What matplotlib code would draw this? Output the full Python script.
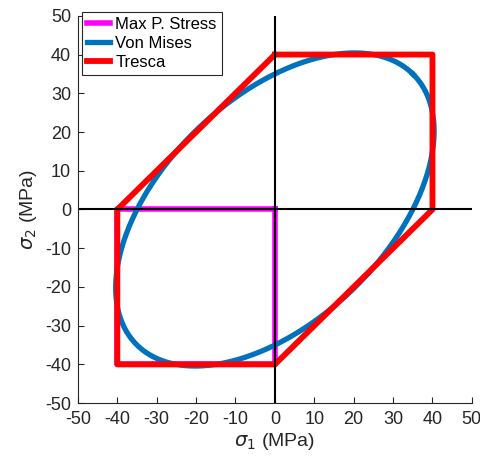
import numpy as np
import matplotlib
matplotlib.use("Agg")
import matplotlib.pyplot as plt

# yield strengths (MPa)
sy_vm = 35.0
sy_tr = 40.0

# max principal stress envelope corners
mps_s1 = [0, 0, -40, -40, 0]
mps_s2 = [0, -40, -40, 0, 0]

# Tresca hexagon corners
tr_s1 = [0, 40, 40, 0, -40, -40, 0]
tr_s2 = [40, 40, 0, -40, -40, 0, 40]

ticks = list(range(-50, 51, 10))

plt.rcParams['font.family'] = ['Liberation Sans', 'DejaVu Sans']
plt.rcParams['mathtext.fontset'] = 'dejavusans'
plt.rcParams['axes.unicode_minus'] = False

fig = plt.figure(figsize=(4.81, 4.65), dpi=100)
ax = fig.add_axes([0.162, 0.133, 0.819, 0.833])

# von Mises ellipse: s1^2 - s1*s2 + s2^2 = sy^2
t = np.linspace(0, 2 * np.pi, 400)
u = np.sqrt(2) * sy_vm * np.cos(t)
v = np.sqrt(2.0 / 3.0) * sy_vm * np.sin(t)
vm_s1 = (u + v) / np.sqrt(2)
vm_s2 = (u - v) / np.sqrt(2)

ax.plot(mps_s1, mps_s2, color=(1, 0, 1), lw=4, label='Max P. Stress')
ax.plot(vm_s1, vm_s2, color=(0, 0.447, 0.741), lw=3.8, label='Von Mises')
ax.plot(tr_s1, tr_s2, color=(1, 0, 0), lw=4.2, label='Tresca')

ax.axhline(0, color='k', lw=1.5)
ax.axvline(0, color='k', lw=1.5)

ax.set_xlim(-50, 50)
ax.set_ylim(-50, 50)
ax.set_xticks(ticks)
ax.set_yticks(ticks)
for s in ['top', 'right']:
    ax.spines[s].set_visible(False)
for s in ['left', 'bottom']:
    ax.spines[s].set_color('0.15')
    ax.spines[s].set_linewidth(0.8)
ax.tick_params(direction='in', length=4, width=0.8, color='0.15',
               labelsize=13, labelcolor='0.15')
ax.tick_params(axis='x', pad=6)
ax.tick_params(axis='y', pad=5)

ax.set_xlabel(r'$\sigma_1$ (MPa)', fontsize=14, color='0.15', labelpad=2)
ax.set_ylabel(r'$\sigma_2$ (MPa)', fontsize=14, color='0.15')

leg = ax.legend(loc='upper left', bbox_to_anchor=(0.01, 1.01), fontsize=12,
                handlelength=1.4, handletextpad=0.3, borderpad=0.3,
                labelspacing=0.25, fancybox=False, framealpha=1,
                borderaxespad=0)
leg.get_frame().set_edgecolor('0.15')
leg.get_frame().set_linewidth(0.8)

fig.savefig('out.png', dpi=100)
